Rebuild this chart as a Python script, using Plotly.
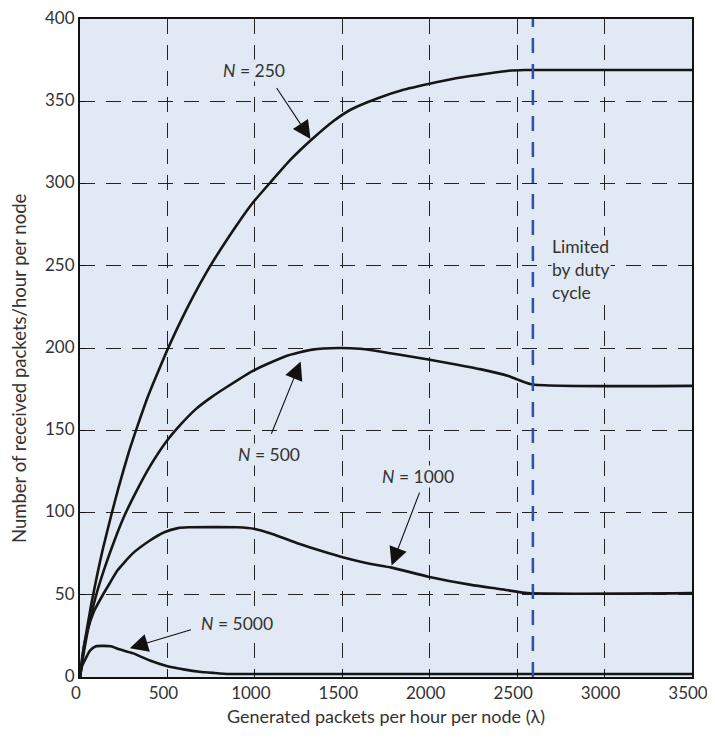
import plotly.graph_objects as go

# ---- data ----
x_n250 = [0, 25, 64, 100, 131, 178, 220, 280, 330, 390, 444, 500, 552, 626, 740, 892, 986, 1100, 1200, 1328, 1450, 1550, 1707, 1850, 1992, 2150, 2276, 2450, 2543, 3500]
y_n250 = [0, 20, 44, 63, 78, 98, 115, 137, 153, 171, 185, 199, 211, 227, 249, 274, 288, 302, 314, 327, 338, 345, 352, 357, 360.5, 364, 366, 368.5, 369, 369]

x_n500 = [0, 30, 60, 93, 140, 197, 254, 323, 400, 493, 580, 664, 750, 835, 986, 1176, 1328, 1480, 1600, 1707, 1821, 1992, 2150, 2295, 2450, 2580, 3500]
y_n500 = [0, 20, 36, 50, 66, 83, 98, 113, 128, 143, 154, 163, 170, 176, 186, 195, 199, 200, 199.5, 198, 196, 193, 190, 187, 183, 178, 177]

x_n1000 = [0, 15, 42, 80, 131, 170, 216, 300, 400, 482, 560, 620, 900, 1000, 1100, 1252, 1400, 1497, 1650, 1782, 1992, 2237, 2400, 2561, 3500]
y_n1000 = [0, 14, 28, 40, 50, 57, 65, 75, 83, 88, 90.5, 91, 91, 90, 87, 81, 76, 73, 69, 66.5, 61, 56, 53.5, 51, 51]

x_n5000 = [0, 10, 27, 57, 91, 177, 220, 302, 400, 495, 600, 683, 760, 854, 3500]
y_n5000 = [0, 6, 10, 16, 18.7, 18.7, 17, 14.5, 10, 6.7, 4.5, 3.2, 2.5, 1.8, 1.8]

duty_cycle_limit = 2590

x_ticks = [0, 500, 1000, 1500, 2000, 2500, 3000, 3500]
y_ticks = [0, 50, 100, 150, 200, 250, 300, 350, 400]

# label text position, arrow tail, arrow head
labels = ["<i>N</i> = 250", "<i>N</i> = 500", "<i>N</i> = 1000", "<i>N</i> = 5000"]
label_x = [996, 1081, 1935, 899]
label_y = [368.5, 135.5, 122, 32.7]
tail_x = [1119, 1091, 1945, 643]
tail_y = [359, 147, 113, 29]
head_x = [1318, 1262, 1782, 285]
head_y = [327, 191.8, 67.8, 17.5]

FONT = "Lato, 'Open Sans', sans-serif"
TXT = "#333333"
BG = "#e1e9f4"

fig = go.Figure()
for xs, ys in [(x_n250, y_n250), (x_n500, y_n500), (x_n1000, y_n1000), (x_n5000, y_n5000)]:
    fig.add_trace(go.Scatter(x=xs, y=ys, mode="lines",
                             line=dict(color="#161616", width=2.6, shape="spline", smoothing=0.5),
                             showlegend=False, hoverinfo="skip"))

fig.add_trace(go.Scatter(x=[duty_cycle_limit, duty_cycle_limit], y=[0, 400], mode="lines",
                         line=dict(color="#2f4fa8", width=2.5, dash="15px,11px"),
                         showlegend=False, hoverinfo="skip"))

ann = []
for t, lx, ly in zip(labels, label_x, label_y):
    ann.append(dict(x=lx, y=ly, xref="x", yref="y", text=t, showarrow=False,
                    bgcolor=BG, borderpad=0,
                    font=dict(family=FONT, size=17.5, color=TXT)))
for tx, ty, hx, hy in zip(tail_x, tail_y, head_x, head_y):
    ann.append(dict(x=hx, y=hy, xref="x", yref="y", ax=tx, ay=ty, axref="x", ayref="y",
                    text="", showarrow=True, arrowhead=2, arrowsize=3.3, arrowwidth=1.1,
                    arrowcolor="#111111", standoff=0, startstandoff=0))
ann.append(dict(x=2692, y=248, xref="x", yref="y", xanchor="left",
                text="Limited<br>by duty<br>cycle", showarrow=False, align="left",
                bgcolor=BG, borderpad=0,
                font=dict(family=FONT, size=17.5, color=TXT)))
# y-axis title placed as a rotated annotation (matches the reference position)
ann.append(dict(x=-0.1008, y=0.47, xref="paper", yref="paper", textangle=-90,
                text="Number of received packets/hour per node", showarrow=False,
                xanchor="center", yanchor="middle",
                font=dict(family=FONT, size=18.5, color=TXT)))

fig.update_layout(
    width=699, height=723,
    margin=dict(l=72, r=15, t=11, b=54, autoexpand=False),
    paper_bgcolor="white", plot_bgcolor=BG,
    font=dict(family=FONT, size=17, color=TXT),
    annotations=ann,
)
axis_common = dict(showgrid=True, gridcolor="#222222", gridwidth=1.2, griddash="15px,11px",
                   showline=True, linecolor="#111111", linewidth=2, mirror=True,
                   ticks="inside", ticklen=6, tickcolor="#111111", zeroline=False,
                   automargin=False, ticklabeloverflow="allow",
                   tickfont=dict(family=FONT, size=17, color=TXT))
fig.update_xaxes(range=[0, 3500], tickvals=x_ticks, ticktext=[str(v) for v in x_ticks],
                 ticklabelshift=-4,
                 title=dict(text="Generated packets per hour per node (λ)", standoff=8,
                            font=dict(family=FONT, size=18, color=TXT)),
                 **axis_common)
fig.update_yaxes(range=[0, 400], tickvals=y_ticks, ticktext=[str(v) for v in y_ticks],
                 ticklabelshift=-1,
                 **axis_common)

fig.write_html("out.html")
